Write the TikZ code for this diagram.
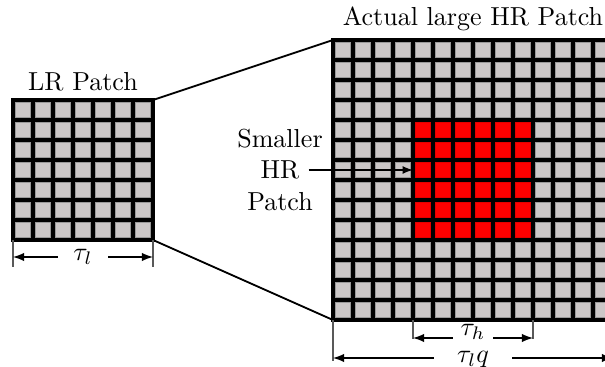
\documentclass[tikz,border=0pt]{standalone}
\usepackage{amsmath,amssymb}
\usepackage{tikz}
\usetikzlibrary{calc}
\usetikzlibrary{positioning}

\definecolor{cellgray}{RGB}{203,199,199}
\tikzset{
  pixel/.style={fill=cellgray, draw=gray!80, line width=0.3pt},
  hrpixel/.style={fill=red, draw=red!90!black, line width=0.3pt},
  gridframe/.style={fill=black, draw=black, line width=1.5pt},
  dimtick/.style={gray!70!black, line width=0.5pt},
  dimline/.style={latex-latex, line width=0.5pt},
  dimlabel/.style={fill=white, inner xsep=6pt, inner ysep=0pt},
  zoomline/.style={line width=0.7pt}
}

\begin{document}
\begin{tikzpicture}[x=0.27cm, y=0.27cm]
    \useasboundingbox (-0.65,-6.35) rectangle (29.6,12);

    %LR patch
    \coordinate (lr-sw) at (0,0);
    \coordinate (lr-se) at (7,0);
    \coordinate (lr-ne) at (7,7);
    \filldraw[gridframe] (lr-sw) rectangle (lr-ne);
    \foreach \i in {0,...,6}
      \foreach \j in {0,...,6}
        \filldraw[pixel] (\i+0.13,\j+0.13) rectangle (\i+0.87,\j+0.87);
    \node[above] (lrlabel) at (3.5,7) {LR Patch};

    %actual HR patch
    \coordinate (hr-sw) at (16,-4);
    \coordinate (hr-nw) at (16,10);
    \coordinate (hr-ne) at (30,10);
    \filldraw[gridframe] (hr-sw) rectangle (hr-ne);
    \foreach \i in {0,...,13}
      \foreach \j in {0,...,13}
        \filldraw[pixel] (16+\i+0.13,-4+\j+0.13) rectangle (16+\i+0.87,-4+\j+0.87);
    % smaller HR patch inside
    \foreach \i in {4,...,9}
      \foreach \j in {4,...,9}
        \filldraw[hrpixel] (16+\i+0.13,-4+\j+0.13) rectangle (16+\i+0.87,-4+\j+0.87);
    \node[above] (hrlabel) at (23,10) {Actual large HR Patch};

    %zoom lines
    \draw[zoomline] (lr-ne) -- (hr-nw);
    \draw[zoomline] (lr-se) -- (hr-sw);

    %label for the inner patch
    \node (hrword) at (13.35,3.5) {HR};
    \node[above=-2pt of hrword] (smaller) {Smaller};
    \node[below=-2pt of hrword] (patch) {Patch};
    \coordinate (hrcell) at (20,3.5);
    \draw[-latex, line width=0.4pt] (hrword) -- (hrcell);

    %dimensions
    \draw[dimtick] (lr-sw) -- ++(0,-1.35);
    \draw[dimtick] (lr-se) -- ++(0,-1.35);
    \coordinate (tl-a) at (0,-0.85);
    \coordinate (tl-b) at (7,-0.85);
    \draw[dimline] (tl-a) -- (tl-b) node[midway, dimlabel] {$\tau_l$};

    \draw[dimtick] (20,-4) -- (20,-4.95);
    \draw[dimtick] (26,-4) -- (26,-4.95);
    \coordinate (th-a) at (20,-4.9);
    \coordinate (th-b) at (26,-4.9);
    \draw[dimline] (th-a) -- (th-b) node[midway, dimlabel, inner xsep=3pt, yshift=2.2pt] {$\tau_h$};

    \draw[dimtick] (hr-sw) -- ++(0,-2.05);
    \draw[dimtick] (30,-4) -- (30,-6.05);
    \coordinate (tq-a) at (16,-5.9);
    \coordinate (tq-b) at (30,-5.9);
    \draw[dimline] (tq-a) -- (tq-b) node[midway, dimlabel, inner xsep=9pt, yshift=-0.5pt] {$\tau_l q$};
\end{tikzpicture}
\end{document}
